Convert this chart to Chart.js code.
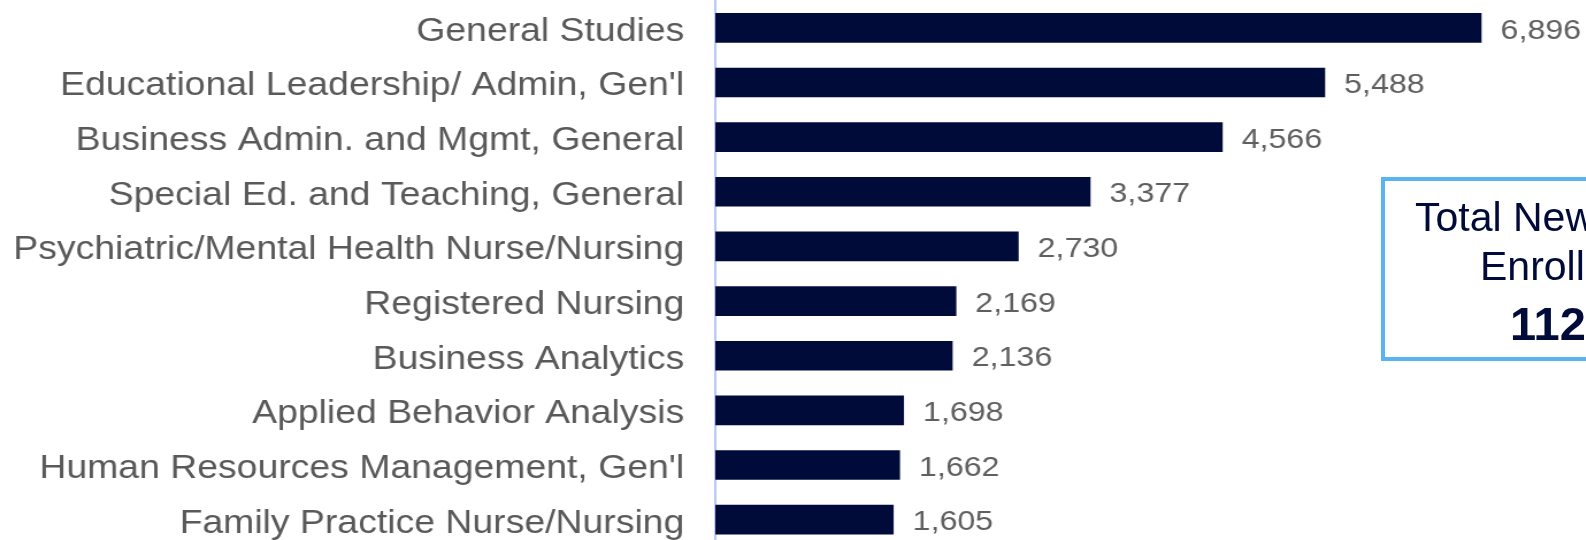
<!DOCTYPE html>
<html>
<head>
<meta charset="utf-8">
<script src="https://cdn.jsdelivr.net/npm/chart.js@4"></script>
<style>
  html, body { margin: 0; padding: 0; width: 1586px; height: 540px; overflow: hidden; background: #fff; }
  #wrap { position: absolute; left: 0; top: 0; width: 1395px; height: 548px; transform: scale(1.15, 1); transform-origin: 0 0; }
  #c { position: absolute; left: 0; top: 0; }
  #box { position: absolute; left: 1381px; top: 177px; width: 400px; height: 176px; border: 4px solid #58b5f2; box-sizing: content-box; }
  .t { position: absolute; font-family: "Liberation Sans", Arial, sans-serif; color: #000b3a; white-space: nowrap; }
</style>
</head>
<body>
<div id="wrap">
  <canvas id="c" width="1395" height="548"></canvas>
</div>
<div id="box"></div>
<div class="t" style="left:1415px; top:197px; font-size:41px; line-height:41px;">Total New</div>
<div class="t" style="left:1480px; top:246px; font-size:41px; line-height:41px;">Enrollments</div>
<div class="t" style="left:1510px; top:300px; font-size:47px; line-height:47px; font-weight:bold;">112</div>
<script>
const categories = [
  "General Studies",
  "Educational Leadership/ Admin, Gen'l",
  "Business Admin. and Mgmt, General",
  "Special Ed. and Teaching, General",
  "Psychiatric/Mental Health Nurse/Nursing",
  "Registered Nursing",
  "Business Analytics",
  "Applied Behavior Analysis",
  "Human Resources Management, Gen'l",
  "Family Practice Nurse/Nursing"
];
const enrollments = [6896, 5488, 4566, 3377, 2730, 2169, 2136, 1698, 1662, 1605];
const axisMin = 0;
const axisMax = 8000;

const valueLabels = {
  id: 'valueLabels',
  afterDatasetsDraw(chart) {
    const ctx = chart.ctx;
    const meta = chart.getDatasetMeta(0);
    ctx.save();
    ctx.font = '28px "Liberation Sans", Arial, sans-serif';
    ctx.fillStyle = '#5f5f5f';
    ctx.textAlign = 'left';
    ctx.textBaseline = 'middle';
    meta.data.forEach((bar, i) => {
      ctx.fillText(enrollments[i].toLocaleString('en-US'), bar.x + 16.5, bar.y + 3);
    });
    ctx.restore();
  }
};

new Chart(document.getElementById('c'), {
  type: 'bar',
  data: {
    labels: categories,
    datasets: [{
      data: enrollments,
      backgroundColor: '#000b3a',
      borderWidth: 0,
      barPercentage: 0.543,
      categoryPercentage: 1.0
    }]
  },
  options: {
    indexAxis: 'y',
    responsive: false,
    devicePixelRatio: 1,
    animation: false,
    layout: { padding: { top: 0.5, bottom: 1, left: 0, right: 0 } },
    plugins: { legend: { display: false }, tooltip: { enabled: false } },
    scales: {
      x: { display: false, min: axisMin, max: axisMax },
      y: {
        grid: { display: false, drawTicks: false },
        border: { display: true, color: '#b7c7f5', width: 2 },
        ticks: {
          color: '#595959',
          padding: 27,
          labelOffset: 4,
          font: { family: '"Liberation Sans", Arial, sans-serif', size: 32.5 }
        },
        afterFit(scale) {
          scale.width = 622;
          scale.paddingTop = 0;
          scale.paddingBottom = 0;
        }
      }
    }
  },
  plugins: [valueLabels]
});
</script>
</body>
</html>
